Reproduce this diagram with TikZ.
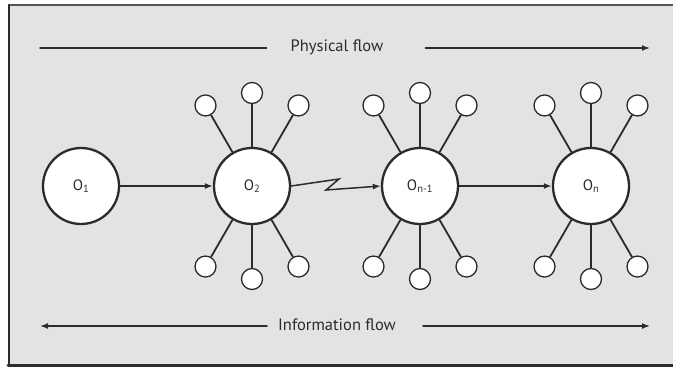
\documentclass[tikz,border=0pt]{standalone}
\usepackage{fontspec}
\setmainfont{PT Sans}
\usepackage{xcolor}
\usepackage{tikz}
\usetikzlibrary{arrows.meta}
\definecolor{panel}{HTML}{E3E3E3}
\definecolor{ink}{HTML}{2B2B2B}
\tikzset{edge/.style = {-{Latex[length=8pt,width=6pt]}}}

\begin{document}
\begin{tikzpicture}[x=1pt,y=-1pt,line cap=round,
    main node/.style={circle,draw=ink,fill=white,line width=2.3pt,minimum size=76pt,inner sep=0pt,font=\fontsize{15}{15}\selectfont,text=ink},
    small node/.style={circle,draw=ink,fill=white,line width=1.3pt,minimum size=21pt,inner sep=0pt},
    spoke/.style={draw=ink,line width=1.8pt},
    flow/.style={draw=ink,line width=1.5pt},
    label node/.style={font=\fontsize{16.5}{16.5}\selectfont,text=ink,inner sep=0pt}]
            \useasboundingbox (0,0) rectangle (673,369);
            % panel
            \fill[panel] (9,5) rectangle (680,364);
            \draw[ink!80,line width=1.5pt] (680,5) -- (9,5);
            \draw[ink,line width=2.2pt] (9,5) -- (9,364);
            \draw[ink,line width=3pt] (8,365) -- (680,365);

            % flows
            \node[label node] (pflow) at (337,47) {Physical flow};
            \node[label node] (iflow) at (337,325) {Information flow};
            \coordinate (pstart) at (40,48);
            \coordinate (pend) at (650,48);
            \coordinate (istart) at (40,326);
            \coordinate (iend) at (650,326);
            \draw[flow] (pstart) -- ([xshift=-24pt,yshift=-1pt]pflow.west);
            \draw[flow,edge] ([xshift=42pt,yshift=-1pt]pflow.east) -- (pend);
            \draw[flow,edge] ([xshift=-11pt,yshift=-1pt]iflow.west) -- (istart);
            \draw[flow,edge] ([xshift=27pt,yshift=-1pt]iflow.east) -- (iend);

            % operators
            \node[main node] (o1) at (81,186) {O\textsubscript{1}};
            \node[main node] (o2) at (252,186) {O\textsubscript{2}};
            \node[main node] (on1) at (420,186) {O\textsubscript{n-1}};
            \node[main node] (on) at (591,186) {O\textsubscript{n}};

            % satellites
            \foreach \o in {o2,on1,on}
                \foreach \a in {60,90,120,240,270,300} {
                    \node[small node] (\o-\a) at ([shift={(\a:93)}]\o.center) {};
                    \path[spoke] (\o) -- (\o-\a);
                }

            % links
            \coordinate (zz1) at (339,179);
            \coordinate (zz2) at (326,190);
            \path[flow,edge] (o1) edge (o2);
            \draw[flow,edge] (o2.east) -- (zz1) -- (zz2) -- (on1.west);
            \path[flow,edge] (on1) edge (on);
        \end{tikzpicture}
\end{document}
